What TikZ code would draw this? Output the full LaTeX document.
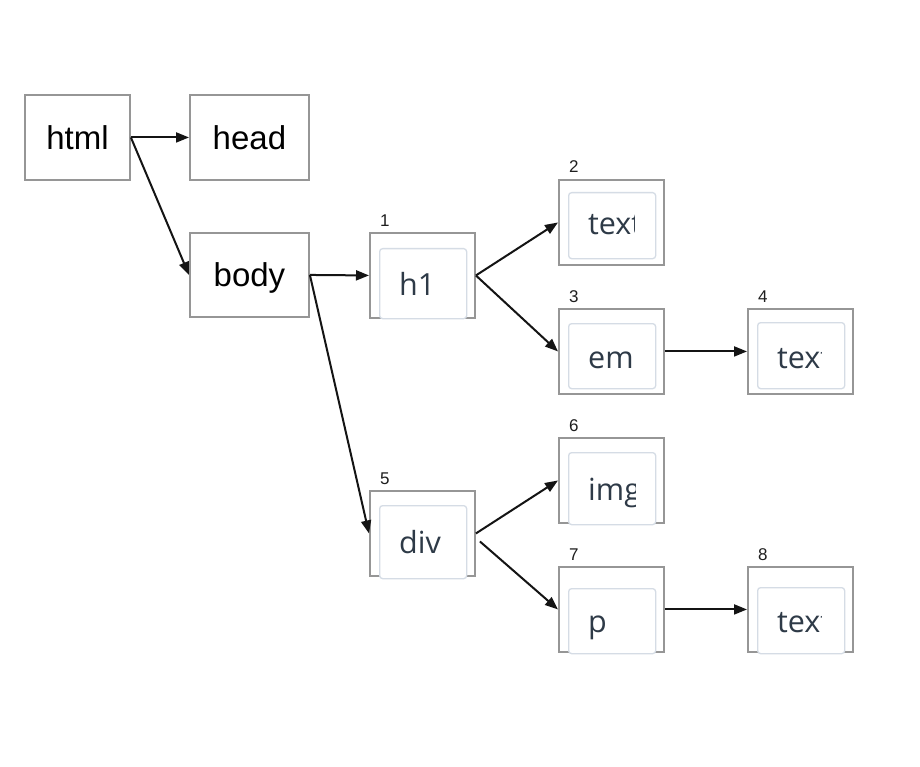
\documentclass[tikz,border=0pt]{standalone}
\usepackage{fontspec}
\newfontfamily\uifont{Open Sans}
\newfontfamily\tagfont{Liberation Sans}
\usetikzlibrary{arrows.meta}
\definecolor{framegray}{HTML}{969696}
\definecolor{innerline}{HTML}{D5DCE5}
\definecolor{inktext}{HTML}{2E3A47}
\definecolor{idxtext}{HTML}{1E1E1E}

\tikzset{
  treebox/.style={draw=framegray, line width=1.9pt, fill=white, minimum height=85pt,
    inner sep=0pt, anchor=north west, font=\tagfont\fontsize{33}{33}\selectfont,
    text height=24pt, text depth=0pt},
  elbox/.style={draw=framegray, line width=1.9pt, fill=white, minimum width=105pt,
    minimum height=85pt, inner sep=0pt, anchor=north west},
  cardbox/.style={draw=innerline, line width=1.3pt, fill=white, rounded corners=3pt,
    minimum width=87pt, inner sep=0pt, anchor=north west},
  cardtext/.style={anchor=base west, inner sep=0pt, text=inktext,
    font=\uifont\fontsize{30.5}{30.5}\selectfont},
  idx/.style={anchor=base west, inner sep=0pt, text=idxtext,
    font=\tagfont\fontsize{17}{17}\selectfont},
  link/.style={draw=black!92, line width=2pt, -{Triangle[length=13pt,width=10pt]}},
}

% element box: name, x, y, number, text, card top, card bottom, baseline, clip width
\newcommand{\elem}[9]{%
  \node[elbox] (#1) at (#2,#3) {};
  \node[cardbox, minimum height={(#7-#6)*1pt}] (#1card) at ({#2+10},{#3+#6}) {};
  \begin{scope}
    \clip ({#2},{#3-10}) rectangle ({#2+#9},{#3+100});
    \node[cardtext] (#1text) at ({#2+30},{#3+#8}) {#5};
  \end{scope}
  \node[idx] (#1num) at ({#2+11},{#3-6}) {#4};
}

\begin{document}
\begin{tikzpicture}[x=1pt, y=-1pt]
  \useasboundingbox[fill=white] (0,0) rectangle (920,767);

  % plain tree boxes
  \node[treebox, minimum width=105pt] (html) at (24,94) {html};
  \node[treebox, minimum width=119pt] (head) at (189,94) {head};
  \node[treebox, minimum width=119pt, minimum height=84pt] (body) at (189,232) {body};

  % numbered element boxes
  \elem{h}{369}{232}{1}{h1}{16}{86}{63}{76}
  \elem{ta}{558}{179}{2}{text}{13}{79}{56}{76}
  \elem{em}{558}{308}{3}{em}{15}{80}{60}{76}
  \elem{tb}{747}{308}{4}{text}{14}{80}{60}{74}
  \elem{dv}{369}{490}{5}{div}{15}{88}{63}{76}
  \elem{im}{558}{437}{6}{img}{15}{87}{63}{77}
  \elem{pp}{558}{566}{7}{p}{22}{87}{66}{76}
  \elem{tc}{747}{566}{8}{text}{21}{87}{66}{74}

  % connectors
  \draw[link] (html.east) -- (head.west);
  \draw[link] (html.east) -- (body.west);
  \draw[link] (body.east) -- (h.west);
  \draw[link] (body.east) -- (dv.west);
  \draw[link] (h.east) -- (ta.west);
  \draw[link] (h.east) -- (em.west);
  \draw[link] (em.east) -- (tb.west);
  \draw[link] (dv.east) -- (im.west);
  \draw[link] ([xshift=4pt,yshift=-8pt]dv.east) -- (pp.west);
  \draw[link] (pp.east) -- (tc.west);
\end{tikzpicture}
\end{document}
